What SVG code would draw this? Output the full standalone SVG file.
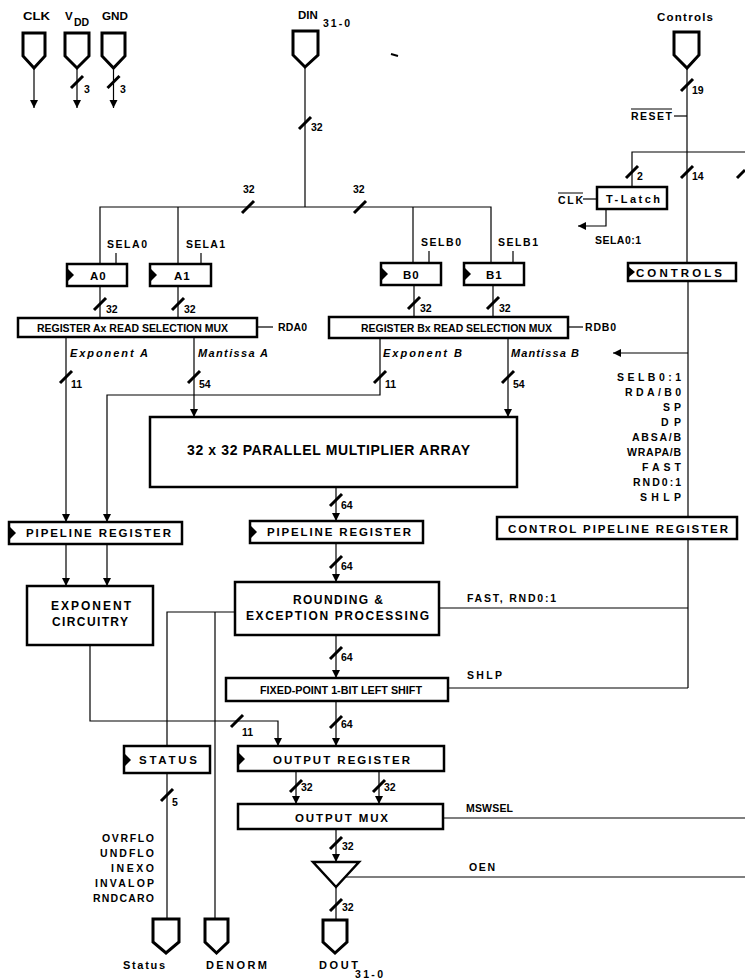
<svg xmlns="http://www.w3.org/2000/svg" width="745" height="979" viewBox="0 0 745 979">
<style>
.bx{fill:#fff;stroke:#000;stroke-width:2.5}
.ln{fill:none;stroke:#000;stroke-width:1.2}
.sl{stroke:#000;stroke-width:3;stroke-linecap:butt}
.pin{fill:#fff;stroke:#000;stroke-width:3;stroke-linejoin:miter}
.t{font-family:"Liberation Sans",Arial,sans-serif;font-weight:bold;fill:#000}
.s{font-size:10.5px}
.m{font-size:10.5px}
.l{font-size:11.5px}
.i{font-style:italic;font-size:11px}
.ck{fill:#000}
</style>
<defs>
<marker id="ah" viewBox="0 0 10 10" refX="10" refY="5" markerWidth="8" markerHeight="9" markerUnits="userSpaceOnUse" orient="auto"><path d="M0,0 L10,5 L0,10 z"/></marker>
</defs>
<rect width="745" height="979" fill="#fff"/>

<!-- connectors -->
<g id="connectors">
<line class="ln" x1="34" y1="68" x2="34" y2="108" marker-end="url(#ah)"/>
<line class="ln" x1="77" y1="68" x2="77" y2="108" marker-end="url(#ah)"/>
<line class="ln" x1="113.5" y1="68" x2="113.5" y2="108" marker-end="url(#ah)"/>
<line class="sl" x1="71" y1="88" x2="83" y2="76"/>
<line class="sl" x1="107.5" y1="88" x2="119.5" y2="76"/>
<line x1="391" y1="54" x2="398" y2="56" stroke="#000" stroke-width="2"/>

<!-- DIN bus -->
<line class="ln" x1="305" y1="67" x2="305" y2="207"/>
<line class="sl" x1="299" y1="129" x2="311" y2="117"/>
<polyline class="ln" points="100,264 100,207 491,207 491,264"/>
<line class="ln" x1="178" y1="207" x2="178" y2="264"/>
<line class="ln" x1="413" y1="207" x2="413" y2="263"/>
<line class="sl" x1="242" y1="213" x2="254" y2="201"/>
<line class="sl" x1="354" y1="213" x2="366" y2="201"/>
<!-- select ticks -->
<line class="ln" x1="116" y1="253" x2="116" y2="264"/>
<line class="ln" x1="201" y1="253" x2="201" y2="264"/>
<line class="ln" x1="429" y1="251" x2="429" y2="263"/>
<line class="ln" x1="513" y1="251" x2="513" y2="263"/>
<!-- register outputs to muxes -->
<line class="ln" x1="100" y1="286" x2="100" y2="318"/>
<line class="ln" x1="178" y1="286" x2="178" y2="318"/>
<line class="ln" x1="414" y1="285" x2="414" y2="317"/>
<line class="ln" x1="493" y1="285" x2="493" y2="317"/>
<line class="sl" x1="94" y1="310" x2="106" y2="298"/>
<line class="sl" x1="172" y1="310" x2="184" y2="298"/>
<line class="sl" x1="408" y1="309" x2="420" y2="297"/>
<line class="sl" x1="487" y1="309" x2="499" y2="297"/>
<line class="ln" x1="257" y1="327" x2="273" y2="327"/>
<line class="ln" x1="568" y1="327" x2="583" y2="327"/>
<!-- mux outputs -->
<line class="ln" x1="66" y1="337" x2="66" y2="522" marker-end="url(#ah)"/>
<line class="ln" x1="194" y1="337" x2="194" y2="417" marker-end="url(#ah)"/>
<polyline class="ln" points="380,338 380,395 107,395 107,522" marker-end="url(#ah)"/>
<line class="ln" x1="508" y1="338" x2="508" y2="417" marker-end="url(#ah)"/>
<line class="sl" x1="60" y1="383" x2="72" y2="371"/>
<line class="sl" x1="188" y1="383" x2="200" y2="371"/>
<line class="sl" x1="374" y1="383" x2="386" y2="371"/>
<line class="sl" x1="502" y1="383" x2="514" y2="371"/>
<!-- multiplier chain -->
<line class="ln" x1="336" y1="487" x2="336" y2="521" marker-end="url(#ah)"/>
<line class="sl" x1="330" y1="506" x2="342" y2="494"/>
<line class="ln" x1="66" y1="544" x2="66" y2="586" marker-end="url(#ah)"/>
<line class="ln" x1="107" y1="544" x2="107" y2="586" marker-end="url(#ah)"/>
<line class="ln" x1="336" y1="543" x2="336" y2="582" marker-end="url(#ah)"/>
<line class="sl" x1="330" y1="568" x2="342" y2="556"/>
<line class="ln" x1="336" y1="635" x2="336" y2="678" marker-end="url(#ah)"/>
<line class="sl" x1="330" y1="659" x2="342" y2="647"/>
<line class="ln" x1="336" y1="701" x2="336" y2="746" marker-end="url(#ah)"/>
<line class="sl" x1="330" y1="728" x2="342" y2="716"/>
<!-- exponent out -->
<polyline class="ln" points="90,645 90,721 278,721 278,746" marker-end="url(#ah)"/>
<line class="sl" x1="231" y1="727" x2="243" y2="715"/>
<!-- rounding to status / denorm -->
<polyline class="ln" points="235,612 167,612 167,746"/>
<line class="ln" x1="215" y1="612" x2="215" y2="919"/>
<line class="ln" x1="167" y1="773" x2="167" y2="919"/>
<line class="sl" x1="161" y1="801" x2="173" y2="789"/>
<!-- output register chain -->
<line class="ln" x1="296" y1="771" x2="296" y2="804" marker-end="url(#ah)"/>
<line class="ln" x1="379" y1="771" x2="379" y2="804" marker-end="url(#ah)"/>
<line class="sl" x1="290" y1="792" x2="302" y2="780"/>
<line class="sl" x1="373" y1="792" x2="385" y2="780"/>
<line class="ln" x1="336" y1="829" x2="336" y2="862" marker-end="url(#ah)"/>
<line class="sl" x1="330" y1="849" x2="342" y2="837"/>
<line class="ln" x1="336" y1="887" x2="336" y2="920"/>
<line class="sl" x1="330" y1="911" x2="342" y2="899"/>
<line class="ln" x1="443" y1="818" x2="745" y2="818"/>
<line class="ln" x1="346" y1="877" x2="745" y2="877"/>
<!-- controls -->
<line class="ln" x1="687" y1="68" x2="687" y2="263"/>
<line class="sl" x1="681" y1="91" x2="693" y2="79"/>
<line class="ln" x1="674" y1="116" x2="687" y2="116"/>
<polyline class="ln" points="632,187 632,152 745,152"/>
<line class="sl" x1="626" y1="178" x2="638" y2="166"/>
<line class="sl" x1="681" y1="178" x2="693" y2="166"/>
<line class="sl" x1="737" y1="178" x2="745" y2="170"/>
<line class="ln" x1="583" y1="199" x2="597" y2="199"/>
<polyline class="ln" points="606,209 606,226 578,226" marker-end="url(#ah)"/>
<line class="ln" x1="688" y1="280" x2="688" y2="517"/>
<line class="ln" x1="688" y1="353" x2="613" y2="353" marker-end="url(#ah)"/>
<line class="ln" x1="688" y1="539" x2="688" y2="688"/>
<line class="ln" x1="439" y1="608" x2="688" y2="608"/>
<line class="ln" x1="448" y1="688" x2="688" y2="688"/>
</g>

<!-- pins -->
<g id="pin-clk"><path class="pin" d="M23,33 H45 V56 L34,68 L23,56 Z"/><text class="t l" x="23" y="20" textLength="27" lengthAdjust="spacingAndGlyphs">CLK</text></g>
<g id="pin-vdd"><path class="pin" d="M65,33 H89 V56 L77,68 L65,56 Z"/><text class="t l" x="65" y="20">V</text><text class="t s" x="74" y="26">DD</text><text class="t s" x="84" y="93">3</text></g>
<g id="pin-gnd"><path class="pin" d="M102,33 H125 V56 L113.5,68 L102,56 Z"/><text class="t l" x="102" y="20" textLength="26" lengthAdjust="spacingAndGlyphs">GND</text><text class="t s" x="120" y="93">3</text></g>
<g id="pin-din"><path class="pin" d="M293,31 H318 V55 L305,67 L293,55 Z"/><text class="t l" x="298" y="19">DIN</text><text class="t m" x="323" y="27" textLength="27" lengthAdjust="spacing">31-0</text><text class="t s" x="311" y="131">32</text></g>
<g id="bus-labels"><text class="t s" x="243" y="193">32</text><text class="t s" x="353" y="193">32</text></g>
<g id="pin-controls"><path class="pin" d="M674,32 H699 V55 L687,68 L674,55 Z"/><text class="t l" x="657" y="21" textLength="56" lengthAdjust="spacing">Controls</text><text class="t s" x="692" y="94">19</text></g>

<!-- registers A/B -->
<g id="reg-a0"><rect class="bx" x="67" y="264" width="60" height="22"/><polygon class="ck" points="68,269 74,275 68,281"/><text class="t l" x="90" y="280" letter-spacing="1">A0</text><text class="t m" x="107" y="248" textLength="40" lengthAdjust="spacing">SELA0</text><text class="t s" x="106" y="313">32</text></g>
<g id="reg-a1"><rect class="bx" x="150" y="264" width="61" height="22"/><polygon class="ck" points="151,269 157,275 151,281"/><text class="t l" x="174" y="280" letter-spacing="1">A1</text><text class="t m" x="186" y="248" textLength="39" lengthAdjust="spacing">SELA1</text><text class="t s" x="184" y="313">32</text></g>
<g id="reg-b0"><rect class="bx" x="381" y="263" width="60" height="22"/><polygon class="ck" points="382,268 388,274 382,280"/><text class="t l" x="403" y="279" letter-spacing="1">B0</text><text class="t m" x="421" y="246" textLength="40" lengthAdjust="spacing">SELB0</text><text class="t s" x="420" y="312">32</text></g>
<g id="reg-b1"><rect class="bx" x="464" y="263" width="60" height="22"/><polygon class="ck" points="465,268 471,274 465,280"/><text class="t l" x="486" y="279" letter-spacing="1">B1</text><text class="t m" x="498" y="246" textLength="40" lengthAdjust="spacing">SELB1</text><text class="t s" x="499" y="312">32</text></g>

<g id="mux-a"><rect class="bx" x="18" y="318" width="239" height="19"/><text class="t" font-size="11" x="37" y="332" textLength="191" lengthAdjust="spacingAndGlyphs">REGISTER Ax READ SELECTION MUX</text><text class="t s" x="278" y="331" textLength="29" lengthAdjust="spacing">RDA0</text><text class="t i" x="70" y="357" textLength="78" lengthAdjust="spacing">Exponent A</text><text class="t i" x="198" y="357" textLength="70" lengthAdjust="spacing">Mantissa A</text><text class="t s" x="71" y="388">11</text><text class="t s" x="199" y="388">54</text></g>
<g id="mux-b"><rect class="bx" x="329" y="317" width="239" height="21"/><text class="t" font-size="11" x="361" y="332" textLength="191" lengthAdjust="spacingAndGlyphs">REGISTER Bx READ SELECTION MUX</text><text class="t s" x="585" y="331" textLength="31" lengthAdjust="spacing">RDB0</text><text class="t i" x="383" y="357" textLength="79" lengthAdjust="spacing">Exponent B</text><text class="t i" x="511" y="357" textLength="68" lengthAdjust="spacing">Mantissa B</text><text class="t s" x="385" y="388">11</text><text class="t s" x="513" y="388">54</text></g>

<g id="multiplier"><rect class="bx" x="150" y="417" width="367" height="70"/><text class="t" font-size="14" x="187" y="455" textLength="283" lengthAdjust="spacing">32 x 32 PARALLEL MULTIPLIER ARRAY</text><text class="t s" x="341" y="509">64</text></g>

<g id="pipe-left"><rect class="bx" x="9" y="522" width="173" height="22"/><polygon class="ck" points="10,527 16,533 10,539"/><text class="t l" x="26" y="537" textLength="145" lengthAdjust="spacing">PIPELINE  REGISTER</text></g>
<g id="pipe-mid"><rect class="bx" x="250" y="521" width="173" height="22"/><polygon class="ck" points="251,526 257,532 251,538"/><text class="t l" x="267" y="536" textLength="144" lengthAdjust="spacing">PIPELINE  REGISTER</text><text class="t s" x="341" y="570">64</text></g>

<g id="exponent"><rect class="bx" x="27" y="586" width="126" height="59"/><text class="t" font-size="12" x="51" y="610" textLength="80" lengthAdjust="spacing">EXPONENT</text><text class="t" font-size="12" x="52" y="626" textLength="76" lengthAdjust="spacing">CIRCUITRY</text><text class="t s" x="242" y="736">11</text></g>

<g id="rounding"><rect class="bx" x="235" y="582" width="204" height="53"/><text class="t" font-size="12" x="293" y="604" textLength="90" lengthAdjust="spacing">ROUNDING &amp;</text><text class="t" font-size="12" x="246" y="620" textLength="183" lengthAdjust="spacing">EXCEPTION  PROCESSING</text><text class="t s" x="341" y="661">64</text><text class="t m" x="467" y="602" textLength="89" lengthAdjust="spacing">FAST,  RND0:1</text></g>

<g id="shift"><rect class="bx" x="226" y="678" width="222" height="23"/><text class="t" font-size="10.5" x="260" y="694" textLength="162" lengthAdjust="spacingAndGlyphs">FIXED-POINT 1-BIT LEFT SHIFT</text><text class="t s" x="341" y="728">64</text><text class="t m" x="467" y="679" textLength="35" lengthAdjust="spacing">SHLP</text></g>

<g id="status-reg"><rect class="bx" x="124" y="746" width="86" height="27"/><polygon class="ck" points="125,754 131,760 125,766"/><text class="t l" x="139" y="764" textLength="58" lengthAdjust="spacing">STATUS</text><text class="t s" x="172" y="806">5</text>
<text class="t m" x="102" y="842" textLength="52" lengthAdjust="spacing">OVRFLO</text><text class="t m" x="100" y="857" textLength="54" lengthAdjust="spacing">UNDFLO</text><text class="t m" x="111" y="872" textLength="43" lengthAdjust="spacing">INEXO</text><text class="t m" x="95" y="887" textLength="59" lengthAdjust="spacing">INVALOP</text><text class="t m" x="93" y="902" textLength="61" lengthAdjust="spacing">RNDCARO</text></g>

<g id="out-reg"><rect class="bx" x="238" y="746" width="206" height="25"/><polygon class="ck" points="239,753 245,759 239,765"/><text class="t l" x="273" y="764" textLength="137" lengthAdjust="spacing">OUTPUT  REGISTER</text><text class="t s" x="301" y="791">32</text><text class="t s" x="384" y="791">32</text></g>

<g id="out-mux"><rect class="bx" x="238" y="804" width="205" height="25"/><text class="t l" x="295" y="822" textLength="93" lengthAdjust="spacing">OUTPUT  MUX</text><text class="t m" x="466" y="812" textLength="47" lengthAdjust="spacing">MSWSEL</text><text class="t s" x="342" y="850">32</text></g>

<g id="buffer"><polygon class="bx" points="313,862 359,862 336,887"/><text class="t m" x="469" y="871" textLength="26" lengthAdjust="spacing">OEN</text><text class="t s" x="342" y="911">32</text></g>

<g id="pin-status"><path class="pin" d="M153,919 H179 V942 L166,953 L153,942 Z"/><text class="t" font-size="11" x="123" y="969" textLength="42" lengthAdjust="spacing">Status</text></g>
<g id="pin-denorm"><path class="pin" d="M205,919 H228 V942 L216.5,953 L205,942 Z"/><text class="t" font-size="11" x="206" y="969" textLength="61" lengthAdjust="spacing">DENORM</text></g>
<g id="pin-dout"><path class="pin" d="M323,920 H347 V942 L335,953 L323,942 Z"/><text class="t" font-size="11" x="319" y="969" textLength="39" lengthAdjust="spacing">DOUT</text><text class="t s" x="355" y="978" textLength="28" lengthAdjust="spacing">31-0</text></g>

<g id="reset"><text class="t m" x="631" y="120" textLength="41" lengthAdjust="spacing">RESET</text><line x1="631" y1="109" x2="672" y2="109" stroke="#000" stroke-width="1"/><text class="t s" x="637" y="180">2</text><text class="t s" x="692" y="180">14</text></g>

<g id="t-latch"><rect class="bx" x="597" y="187" width="70" height="22"/><text class="t" font-size="11" x="606" y="203" textLength="54" lengthAdjust="spacing">T-Latch</text><text class="t m" x="558" y="204" textLength="25" lengthAdjust="spacing">CLK</text><line x1="558" y1="193" x2="583" y2="193" stroke="#000" stroke-width="1"/><text class="t m" x="595" y="244" textLength="46" lengthAdjust="spacing">SELA0:1</text></g>

<g id="controls-reg"><rect class="bx" x="628" y="263" width="108" height="18"/><polygon class="ck" points="629,267 635,272 629,277"/><text class="t l" x="636" y="277" textLength="86" lengthAdjust="spacing">CONTROLS</text>
<text class="t m" x="617" y="381" textLength="64" lengthAdjust="spacing">SELB0:1</text><text class="t m" x="625" y="396" textLength="56" lengthAdjust="spacing">RDA/B0</text><text class="t m" x="663" y="411" textLength="18" lengthAdjust="spacing">SP</text><text class="t m" x="661" y="426" textLength="20" lengthAdjust="spacing">DP</text><text class="t m" x="632" y="441" textLength="49" lengthAdjust="spacing">ABSA/B</text><text class="t m" x="627" y="456" textLength="54" lengthAdjust="spacing">WRAPA/B</text><text class="t m" x="642" y="471" textLength="39" lengthAdjust="spacing">FAST</text><text class="t m" x="633" y="486" textLength="48" lengthAdjust="spacing">RND0:1</text><text class="t m" x="640" y="501" textLength="41" lengthAdjust="spacing">SHLP</text></g>

<g id="control-pipe"><rect class="bx" x="497" y="517" width="240" height="22"/><text class="t l" x="508" y="533" textLength="220" lengthAdjust="spacing">CONTROL  PIPELINE  REGISTER</text></g>
</svg>
